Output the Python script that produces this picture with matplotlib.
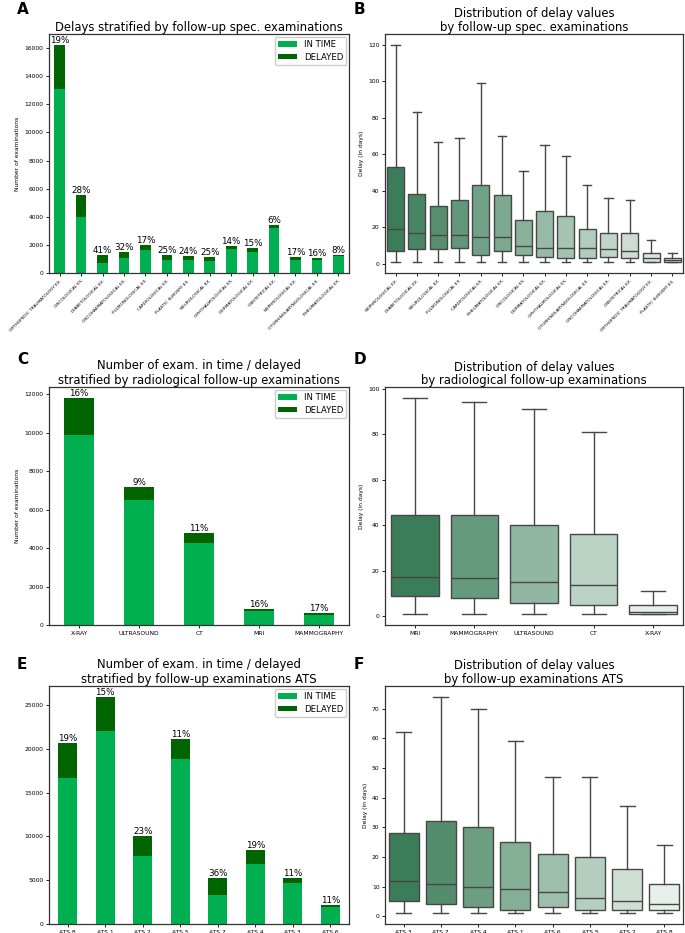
import matplotlib
matplotlib.use("Agg")
import matplotlib.pyplot as plt
import numpy as np

# ---------------- data ----------------
spec_labels = ["ORTHOPEDIC TRAUMATOLOGY EX.", "ONCOLOGICAL EX.", "DIABETOLOGICAL EX.",
               "ONCOHAEMATOLOGICAL EX.", "PULMONOLOGICAL EX.", "CARDIOLOGICAL EX.",
               "PLASTIC SURGERY EX.", "NEUROLOGICAL EX.", "OPHTHALMOLOGICAL EX.",
               "DERMATOLOGICAL EX.", "OBSTETRICAL EX.", "NEPHROLOGICAL EX.",
               "OTORHINOLARYNGOLOGICAL EX.", "RHEUMATOLOGICAL EX."]
spec_in_time = [13100, 4000, 740, 1040, 1650, 950, 930, 850, 1680, 1500, 3200, 940, 910, 1200]
spec_delayed = [3100, 1550, 510, 490, 330, 310, 290, 280, 270, 260, 200, 190, 170, 100]

specbox_labels = ["NEPHROLOGICAL EX.", "DIABETOLOGICAL EX.", "NEUROLOGICAL EX.",
                  "PULMONOLOGICAL EX.", "CARDIOLOGICAL EX.", "RHEUMATOLOGICAL EX.",
                  "ONCOLOGICAL EX.", "DERMATOLOGICAL EX.", "OPHTHALMOLOGICAL EX.",
                  "OTORHINOLARYNGOLOGICAL EX.", "ONCOHAEMATOLOGICAL EX.", "OBSTETRICAL EX.",
                  "ORTHOPEDIC TRAUMATOLOGY EX.", "PLASTIC SURGERY EX."]
specbox_low = [1, 1, 1, 1, 1, 1, 1, 1, 1, 1, 1, 1, 1, 1]
specbox_q1 = [7, 8, 8, 9, 5, 7, 5, 4, 3, 3, 4, 3, 1, 1]
specbox_med = [19, 17, 16, 16, 15, 15, 10, 9, 9, 9, 8, 7, 3, 2]
specbox_q3 = [53, 38.5, 32, 35, 43, 38, 24, 29, 26, 19, 17, 17, 6, 3]
specbox_high = [120, 83, 67, 69, 99, 70, 51, 65, 59, 43, 36, 35, 13, 6]

rad_labels = ["X-RAY", "ULTRASOUND", "CT", "MRI", "MAMMOGRAPHY"]
rad_in_time = [9900, 6500, 4280, 715, 530]
rad_delayed = [1880, 650, 520, 135, 110]

radbox_labels = ["MRI", "MAMMOGRAPHY", "ULTRASOUND", "CT", "X-RAY"]
radbox_low = [1, 1, 1, 1, 1]
radbox_q1 = [9, 8, 6, 5, 1]
radbox_med = [17.5, 17, 15, 14, 2]
radbox_q3 = [44.5, 44.5, 40, 36, 5]
radbox_high = [96, 94, 91, 81, 11]

ats_labels = ["ATS 8", "ATS 1", "ATS 2", "ATS 5", "ATS 7", "ATS 4", "ATS 3", "ATS 6"]
ats_in_time = [16700, 22000, 7800, 18850, 3330, 6800, 4630, 1960]
ats_delayed = [4000, 3900, 2300, 2250, 1870, 1600, 570, 240]

atsbox_labels = ["ATS 3", "ATS 7", "ATS 4", "ATS 1", "ATS 6", "ATS 5", "ATS 2", "ATS 8"]
atsbox_low = [1, 1, 1, 1, 1, 1, 1, 1]
atsbox_q1 = [5, 4, 3, 2, 3, 2, 2, 2]
atsbox_med = [12, 11, 10, 9, 8, 6, 5, 4]
atsbox_q3 = [28, 32, 30, 25, 21, 20, 16, 11]
atsbox_high = [62, 74, 70, 59, 47, 47, 37, 24]

# ---------------- style ----------------
C_IN = "#00B050"
C_DEL = "#006400"
LINE = "#474747"
W, H = 685, 933
fig = plt.figure(figsize=(W / 100, H / 100), dpi=100)


def add_ax(l, r, t, b):
    return fig.add_axes([l / W, 1 - b / H, (r - l) / W, (b - t) / H])


def style_ax(ax, rot):
    for s in ax.spines.values():
        s.set_linewidth(0.9)
        s.set_color("#333333")
    ax.tick_params(axis="both", length=2.5, width=0.6, pad=1.5)
    ax.tick_params(axis="y", labelsize=4.3)
    ax.tick_params(axis="x", labelsize=3.1 if rot else 4.3)


def set_xlabels(ax, labels, rot):
    ax.set_xticks(np.arange(len(labels)))
    if rot:
        ax.set_xticklabels(labels, rotation=45, ha="right", rotation_mode="anchor")
    else:
        ax.set_xticklabels(labels)


def stacked(ax, labels, in_time, delayed, title, ylabel, rot):
    x = np.arange(len(labels))
    ax.bar(x, in_time, width=0.5, color=C_IN, label="IN TIME")
    ax.bar(x, delayed, width=0.5, bottom=in_time, color=C_DEL, label="DELAYED")
    ax.set_xlim(-0.5, len(labels) - 0.5)
    tot = np.array(in_time) + np.array(delayed)
    ax.set_ylim(0, tot.max() * 1.05)
    for xi, t, d in zip(x, tot, delayed):
        ax.text(xi, t, f"{round(100 * d / t)}%", ha="center", va="bottom", fontsize=6.3)
    set_xlabels(ax, labels, rot)
    ax.set_title(title, fontsize=8.4, pad=2)
    if ylabel:
        ax.set_ylabel(ylabel, fontsize=4.3, labelpad=3)
    style_ax(ax, rot)
    ax.legend(loc="upper right", fontsize=6.1, handlelength=2.2, handleheight=0.6,
              borderpad=0.4, labelspacing=0.45, framealpha=1, edgecolor="#cccccc",
              borderaxespad=0.3)


def green_palette(n):
    dark = np.array([0x3b, 0x7d, 0x58]) / 255
    light = np.array([0xe6, 0xef, 0xe9]) / 255
    return [tuple(dark + (light - dark) * i / (n - 1)) for i in range(n)]


def boxes(ax, labels, low, q1, med, q3, high, title, rot):
    stats = [dict(whislo=a, q1=b, med=c, q3=d, whishi=e, label=lab)
             for lab, a, b, c, d, e in zip(labels, low, q1, med, q3, high)]
    pos = np.arange(len(labels))
    bp = ax.bxp(stats, positions=pos, widths=0.8, showfliers=False, patch_artist=True,
                boxprops=dict(edgecolor=LINE, linewidth=1.0),
                whiskerprops=dict(color=LINE, linewidth=1.0),
                capprops=dict(color=LINE, linewidth=1.0),
                medianprops=dict(color=LINE, linewidth=1.0))
    for patch, col in zip(bp["boxes"], green_palette(len(labels))):
        patch.set_facecolor(col)
    ax.set_xlim(-0.5, len(labels) - 0.5)
    lo, hi = min(low), max(high)
    m = 0.05 * (hi - lo)
    ax.set_ylim(lo - m, hi + m)
    set_xlabels(ax, labels, rot)
    ax.set_title(title, fontsize=8.4, pad=2, linespacing=1.05)
    ax.set_ylabel("Delay (in days)", fontsize=4.3, labelpad=3)
    style_ax(ax, rot)


axA = add_ax(49, 349, 34, 273)
stacked(axA, spec_labels, spec_in_time, spec_delayed,
        "Delays stratified by follow-up spec. examinations", "Number of examinations", True)
axA.set_yticks(np.arange(0, 16001, 2000))

axB = add_ax(385, 683, 34, 273)
boxes(axB, specbox_labels, specbox_low, specbox_q1, specbox_med, specbox_q3, specbox_high,
      "Distribution of delay values\nby follow-up spec. examinations", True)
axB.set_yticks(np.arange(0, 121, 20))

axC = add_ax(49, 349, 387, 625)
stacked(axC, rad_labels, rad_in_time, rad_delayed,
        "Number of exam. in time / delayed\nstratified by radiological follow-up examinations",
        "Number of examinations", False)
axC.set_yticks(np.arange(0, 12001, 2000))

axD = add_ax(385, 683, 387, 625)
boxes(axD, radbox_labels, radbox_low, radbox_q1, radbox_med, radbox_q3, radbox_high,
      "Distribution of delay values\nby radiological follow-up examinations", False)
axD.set_yticks(np.arange(0, 101, 20))

axE = add_ax(49, 349, 686, 924)
stacked(axE, ats_labels, ats_in_time, ats_delayed,
        "Number of exam. in time / delayed\nstratified by follow-up examinations ATS", None, False)
axE.set_yticks(np.arange(0, 25001, 5000))

axF = add_ax(385, 683, 686, 924)
boxes(axF, atsbox_labels, atsbox_low, atsbox_q1, atsbox_med, atsbox_q3, atsbox_high,
      "Distribution of delay values\nby follow-up examinations ATS", False)
axF.set_yticks(np.arange(0, 71, 10))

for letter, x, y in [("A", 17, 2), ("B", 354, 2), ("C", 17, 352), ("D", 354, 352),
                     ("E", 17, 657), ("F", 354, 657)]:
    fig.text(x / W, 1 - y / H, letter, fontsize=11, fontweight="bold", va="top", ha="left")

fig.savefig("out.png", dpi=100)
